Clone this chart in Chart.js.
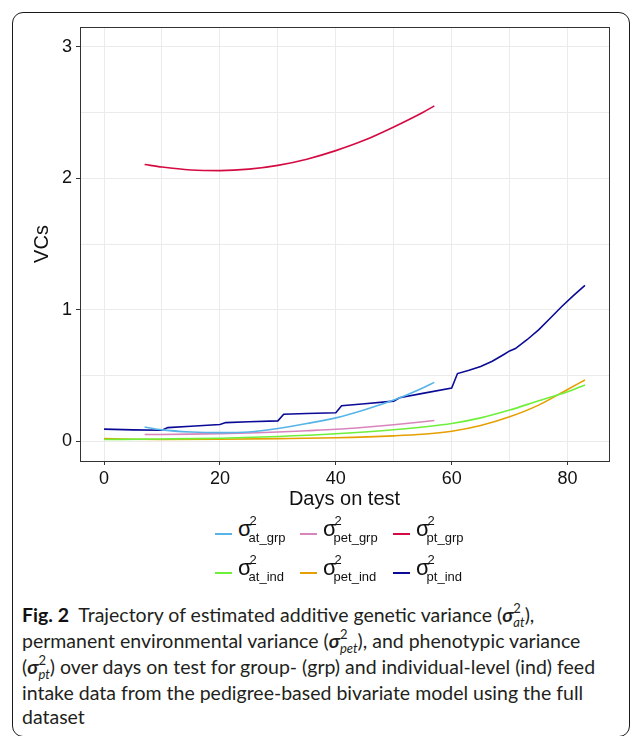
<!DOCTYPE html>
<html lang="en">
<head>
<meta charset="UTF-8">
<title>VCs over days on test</title>
<script src="https://cdn.jsdelivr.net/npm/chart.js"></script>
<style>
  html, body { margin: 0; padding: 0; background: #fff; }
  body { width: 630px; height: 736px; position: relative; overflow: hidden; font-family: "Liberation Sans", Arial, sans-serif; }
  .frame { position: absolute; left: 12px; top: 12px; width: 616px; height: 723px; border: 1px solid #1a1a1a; border-radius: 11px; }
  #vcChart { position: absolute; left: 0; top: 0; }
  .item { position: absolute; height: 0; }
  .swatch { position: absolute; left: 0; top: -1px; width: 17px; height: 2px; }
  .lab { position: absolute; left: 23px; top: -17px; white-space: nowrap; color: #111; }
  .sig { font-size: 22px; line-height: 24px; }
  .ss { display: inline-block; position: relative; }
  .ss .sp { position: absolute; left: -2px; top: -9px; font-size: 13px; }
  .ss .sb { display: inline-block; position: relative; left: -3px; top: 6px; font-size: 13px; }
  .caption { position: absolute; left: 22px; top: 603px; font-family: Lato, "Open Sans", sans-serif; font-size: 19.5px; line-height: 24px; color: #231f20; white-space: nowrap; }
  .caption b { font-weight: 700; color: #111; }
  .caption i.s { font-weight: 700; }
  .cs { display: inline-block; position: relative; }
  .cs .sp { position: absolute; left: 0; top: -7px; font-size: 13px; }
  .cs .sb { display: inline-block; position: relative; top: 5px; font-size: 13px; font-style: italic; }
</style>
</head>
<body>
<div class="frame"></div>
<canvas id="vcChart" width="630" height="515"></canvas>
<div id="legend"></div>
<div class="caption">
  <b>Fig. 2</b>&nbsp; Trajectory of estimated additive genetic variance (<i class="s">σ</i><span class="cs"><span class="sp">2</span><span class="sb">at</span></span>),<br>
  permanent environmental variance (<i class="s">σ</i><span class="cs"><span class="sp">2</span><span class="sb">pet</span></span>), and phenotypic variance<br>
  (<i class="s">σ</i><span class="cs"><span class="sp">2</span><span class="sb">pt</span></span>) over days on test for group- (grp) and individual-level (ind) feed<br>
  intake data from the pedigree-based bivariate model using the full<br>
  dataset
</div>

<script>
// variance components (days on test -> VCs)
const atGrpDays = [7, 10, 15, 20, 25, 30, 35, 40, 45, 50, 55, 57];
const atGrpVCs  = [0.109, 0.087, 0.071, 0.066, 0.071, 0.097, 0.135, 0.178, 0.240, 0.313, 0.405, 0.448];

const petGrpDays = [7, 15, 20, 25, 30, 35, 40, 45, 50, 57];
const petGrpVCs  = [0.051, 0.054, 0.058, 0.063, 0.070, 0.080, 0.091, 0.107, 0.126, 0.158];

const ptGrpDays = [7, 10, 15, 20, 25, 30, 35, 40, 45, 50, 55, 57];
const ptGrpVCs  = [2.105, 2.085, 2.063, 2.058, 2.069, 2.098, 2.145, 2.21, 2.29, 2.39, 2.50, 2.55];

const atIndDays = [0, 10, 20, 30, 40, 50, 60, 65, 70, 75, 80, 83];
const atIndVCs  = [0.013, 0.017, 0.023, 0.036, 0.057, 0.088, 0.135, 0.178, 0.237, 0.308, 0.377, 0.428];

const petIndDays = [0, 5, 10, 20, 30, 40, 50, 55, 60, 65, 70, 75, 80, 83];
const petIndVCs  = [0.020, 0.015, 0.013, 0.015, 0.020, 0.027, 0.041, 0.053, 0.076, 0.120, 0.186, 0.275, 0.394, 0.466];

// pt_ind has small steps every 10 days, drawn with straight segments
const ptIndDays = [0, 5, 10, 11, 15, 20, 21, 25, 30, 31, 35, 40, 41, 45, 50, 51, 55, 60, 61, 63, 65, 67, 69, 70, 71, 73, 75, 77, 79, 81, 83];
const ptIndVCs  = [0.092, 0.087, 0.084, 0.104, 0.114, 0.127, 0.142, 0.148, 0.155, 0.206, 0.211, 0.217, 0.270, 0.285, 0.305, 0.331, 0.364, 0.405, 0.515, 0.540, 0.568, 0.608, 0.660, 0.687, 0.705, 0.772, 0.847, 0.935, 1.025, 1.108, 1.186];

const seriesNames  = ['at_grp', 'pet_grp', 'pt_grp', 'at_ind', 'pet_ind', 'pt_ind'];
const seriesColors = ['#56B4E9', '#D985BD', '#D40B42', '#6EF03A', '#E69F00', '#0A0A96'];
const seriesDays   = [atGrpDays, petGrpDays, ptGrpDays, atIndDays, petIndDays, ptIndDays];
const seriesVCs    = [atGrpVCs, petGrpVCs, ptGrpVCs, atIndVCs, petIndVCs, ptIndVCs];

const xTicks = [0, 20, 40, 60, 80];
const xMinor = [10, 30, 50, 70];
const yTicks = [0, 1, 2, 3];
const yMinor = [0.5, 1.5, 2.5];

const datasets = seriesNames.map((name, k) => ({
    label: name,
    data: seriesDays[k].map((d, i) => ({ x: d, y: seriesVCs[k][i] })),
    borderColor: seriesColors[k],
    backgroundColor: seriesColors[k],
    borderWidth: 1.6,
    pointRadius: 0,
    cubicInterpolationMode: name === 'pt_ind' ? 'default' : 'monotone',
    tension: 0,
    fill: false
}));

// ggplot-like panel border
const panelBorder = {
    id: 'panelBorder',
    afterDraw(chart) {
        const a = chart.chartArea, c = chart.ctx;
        c.save();
        c.strokeStyle = '#333';
        c.lineWidth = 1;
        c.strokeRect(Math.round(a.left) + 0.5, Math.round(a.top) + 0.5, Math.round(a.right - a.left), Math.round(a.bottom - a.top));
        c.restore();
    }
};

function tickSet(major, minor) {
    return scale => {
        scale.ticks = major.concat(minor).sort((p, q) => p - q).map(v => ({ value: v }));
    };
}

new Chart(document.getElementById('vcChart').getContext('2d'), {
    type: 'line',
    data: { datasets: datasets },
    options: {
        responsive: false,
        animation: false,
        devicePixelRatio: 1,
        layout: { padding: { top: 27, right: 21, left: 0, bottom: 0 } },
        plugins: { legend: { display: false }, tooltip: { enabled: false } },
        scales: {
            x: {
                type: 'linear',
                min: -4.15,
                max: 87.15,
                afterBuildTicks: tickSet(xTicks, xMinor),
                afterFit: s => { s.height = 54; },
                border: { display: false },
                grid: {
                    color: '#ebebeb',
                    lineWidth: 1,
                    tickLength: 4,
                    tickColor: ctx => xTicks.includes(ctx.tick.value) ? '#333' : 'rgba(0,0,0,0)'
                },
                ticks: {
                    padding: 3,
                    maxRotation: 0,
                    autoSkip: false,
                    color: '#111',
                    font: { family: 'Liberation Sans', size: 18 },
                    callback: v => xTicks.includes(v) ? String(v) : ''
                },
                title: {
                    display: true,
                    text: 'Days on test',
                    color: '#111',
                    font: { family: 'Liberation Sans', size: 20 },
                    padding: { top: 0, bottom: 4 }
                }
            },
            y: {
                type: 'linear',
                min: -0.15,
                max: 3.15,
                afterBuildTicks: tickSet(yTicks, yMinor),
                afterFit: s => { s.width = 80; },
                border: { display: false },
                grid: {
                    color: '#ebebeb',
                    lineWidth: 1,
                    tickLength: 4,
                    tickColor: ctx => yTicks.includes(ctx.tick.value) ? '#333' : 'rgba(0,0,0,0)'
                },
                ticks: {
                    padding: 4,
                    autoSkip: false,
                    color: '#111',
                    font: { family: 'Liberation Sans', size: 18 },
                    callback: v => yTicks.includes(v) ? String(v) : ''
                },
                title: {
                    display: true,
                    text: 'VCs',
                    color: '#111',
                    font: { family: 'Liberation Sans', size: 20 },
                    padding: { top: 30, bottom: 0 }
                }
            }
        }
    },
    plugins: [panelBorder]
});

// legend: two rows of three, sigma with stacked super/subscript
const legendCols = [215, 300, 393];
const legendRows = [534, 573];
const legendBox = document.getElementById('legend');
seriesNames.forEach((name, k) => {
    const item = document.createElement('div');
    item.className = 'item';
    item.style.left = legendCols[k % 3] + 'px';
    item.style.top = legendRows[Math.floor(k / 3)] + 'px';
    item.innerHTML = '<div class="swatch" style="background:' + seriesColors[k] + '"></div>' +
        '<div class="lab"><span class="sig">σ</span><span class="ss"><span class="sp">2</span><span class="sb">' + name + '</span></span></div>';
    legendBox.appendChild(item);
});
</script>
</body>
</html>
